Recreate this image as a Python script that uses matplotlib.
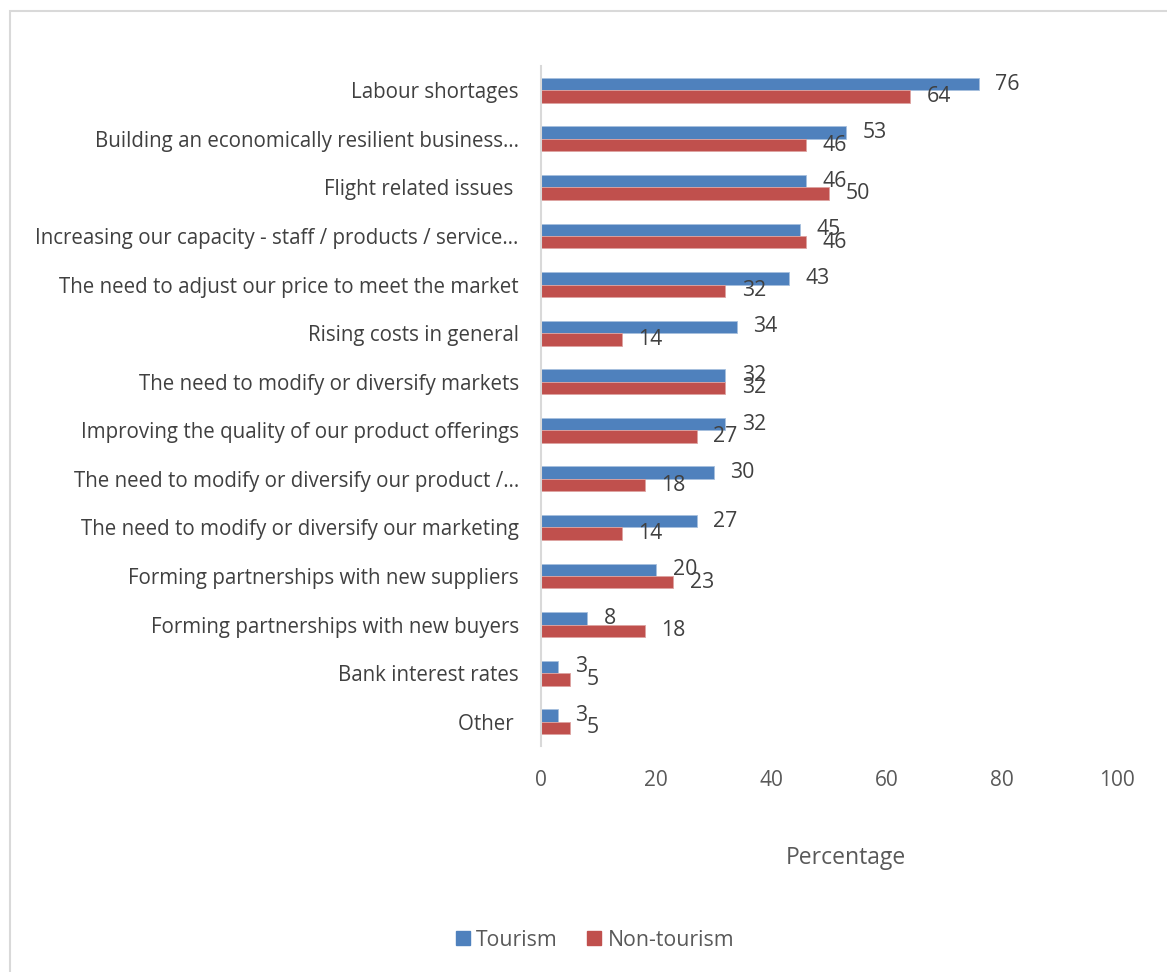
import matplotlib.pyplot as plt
import matplotlib.patches as mpatches
import numpy as np

plt.rcParams['font.family'] = ['Open Sans', 'DejaVu Sans']

# 数据：各项挑战的占比（%）
categories = [
    "Labour shortages",
    "Building an economically resilient business\u2026",
    "Flight related issues ",
    "Increasing our capacity - staff / products / service\u2026",
    "The need to adjust our price to meet the market",
    "Rising costs in general",
    "The need to modify or diversify markets",
    "Improving the quality of our product offerings",
    "The need to modify or diversify our product /\u2026",
    "The need to modify or diversify our marketing",
    "Forming partnerships with new suppliers",
    "Forming partnerships with new buyers",
    "Bank interest rates",
    "Other ",
]
tourism = [76, 53, 46, 45, 43, 34, 32, 32, 30, 27, 20, 8, 3, 3]
non_tourism = [64, 46, 50, 46, 32, 14, 32, 27, 18, 14, 23, 18, 5, 5]
xticks = [0, 20, 40, 60, 80, 100]

blue = "#4F81BD"
red = "#C0504D"
text_color = "#404040"
tick_color = "#595959"

W, H = 1167, 972
fig = plt.figure(figsize=(W / 100, H / 100), dpi=100)

# 外框
fig.patches.append(mpatches.Rectangle((10 / W, -0.2), 1.2, 1.2 - 11 / H, transform=fig.transFigure,
                                      fill=False, edgecolor="#d9d9d9", linewidth=1.5))

ax = fig.add_axes([541 / W, 1 - 746 / H, 576 / W, 680 / H])

y = np.arange(len(categories))
bh = 0.257
ax.barh(y - bh / 2, tourism, height=bh, color=blue, edgecolor="#a7c0de", linewidth=0.6, label="Tourism")
ax.barh(y + bh / 2, non_tourism, height=bh, color=red, edgecolor="#dda3a1", linewidth=0.6, label="Non-tourism")

for yi, v in zip(y, tourism):
    ax.annotate(str(v), (v, yi - bh / 2), xytext=(12, 0), textcoords="offset points",
                ha="left", va="center", fontsize=15.3, color=text_color)
for yi, v in zip(y, non_tourism):
    ax.annotate(str(v), (v, yi + bh / 2), xytext=(12, 0), textcoords="offset points",
                ha="left", va="center", fontsize=15.3, color=text_color)

ax.set_xlim(0, 100)
ax.set_ylim(len(categories) - 0.5, -0.5)
ax.set_xticks(xticks)
ax.set_xticklabels([str(t) for t in xticks], fontsize=15, color=tick_color)
ax.set_yticks(y)
ax.set_yticklabels(categories, fontsize=14.8, color=text_color)
ax.tick_params(axis="both", length=0)
ax.tick_params(axis="y", pad=16)
ax.tick_params(axis="x", pad=17)

for s in ["top", "right", "bottom"]:
    ax.spines[s].set_visible(False)
ax.spines["left"].set_color("#d9d9d9")
ax.spines["left"].set_linewidth(1.5)

fig.text(846 / W, 1 - 858 / H, "Percentage", ha="center", va="center", fontsize=16.5, color=tick_color)

handles = [mpatches.Patch(color=blue, label="Tourism"), mpatches.Patch(color=red, label="Non-tourism")]
fig.legend(handles=handles, loc="center", bbox_to_anchor=(595 / W, 1 - 940 / H), ncol=2, frameon=False,
           fontsize=15.3, handlelength=0.65, handleheight=0.65, handletextpad=0.3, columnspacing=1.4,
           labelcolor=tick_color)

fig.savefig("out.png", dpi=100)
